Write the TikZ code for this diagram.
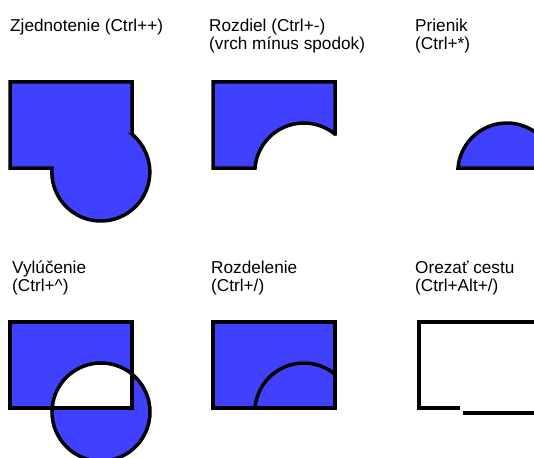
\documentclass[tikz,border=0pt]{standalone}
\usepackage{fontspec}
\setmainfont{Liberation Sans}
\usetikzlibrary{positioning,calc}
\definecolor{opblue}{RGB}{64,64,255}
\tikzset{
    lbl/.style={anchor=base west,inner sep=0pt,align=left,
        font=\fontsize{17.2}{17.5}\selectfont},
    shp/.style={draw=black,line width=3.5pt,fill=opblue},
    rim/.style={draw=black,line width=3.5pt},
}

\begin{document}
\begin{tikzpicture}[x=1pt,y=1pt]
    \useasboundingbox (0,0) rectangle (534,-457);
    % labels, top row (base = last line)
    \node[lbl](lunion) at (10,-32){Zjednotenie (Ctrl++)};
    \node[lbl](ldiff) at (209,-49.5){Rozdiel (Ctrl+-)\\(vrch mínus spodok)};
    \node[lbl](linter) at (415,-49.5){Prienik\\(Ctrl+*)};
    % labels, bottom row
    \node[lbl](lxor) at (12,-291){Vylúčenie\\(Ctrl+\^{})};
    \node[lbl](ldiv) at (211,-291){Rozdelenie\\(Ctrl+/)};
    \node[lbl](lcut) at (415,-291){Orezať cestu\\(Ctrl+Alt+/)};
    % union
    \path[shp](132,-134)--(132,-82)--(10,-82)--(10,-168)--(52,-168)
        arc[start angle=175.3,end angle=410.8,radius=49]--cycle;
    % difference
    \path[shp](335,-134)--(335,-82)--(213,-82)--(213,-168)--(255,-168)
        arc[start angle=175.3,end angle=50.8,radius=49]--cycle;
    % intersection
    \path[shp](458,-168)arc[start angle=175.3,end angle=50.8,radius=49]
        --(538,-168)--cycle;
    % exclusion
    \path[fill=opblue,even odd rule](10,-322)rectangle(132,-408)
        (101,-412)circle[radius=49];
    \path[rim](10,-322)rectangle(132,-408);
    \path[rim](101,-412)circle[radius=49];
    % division
    \path[shp](213,-322)rectangle(335,-408);
    \path[rim](255,-408)arc[start angle=175.3,end angle=50.8,radius=49];
    % cut path
    \path[rim](540,-322)--(419,-322)--(419,-408)--(460,-408);
    \path[rim](463,-413)--(540,-413);
\end{tikzpicture}
\end{document}
